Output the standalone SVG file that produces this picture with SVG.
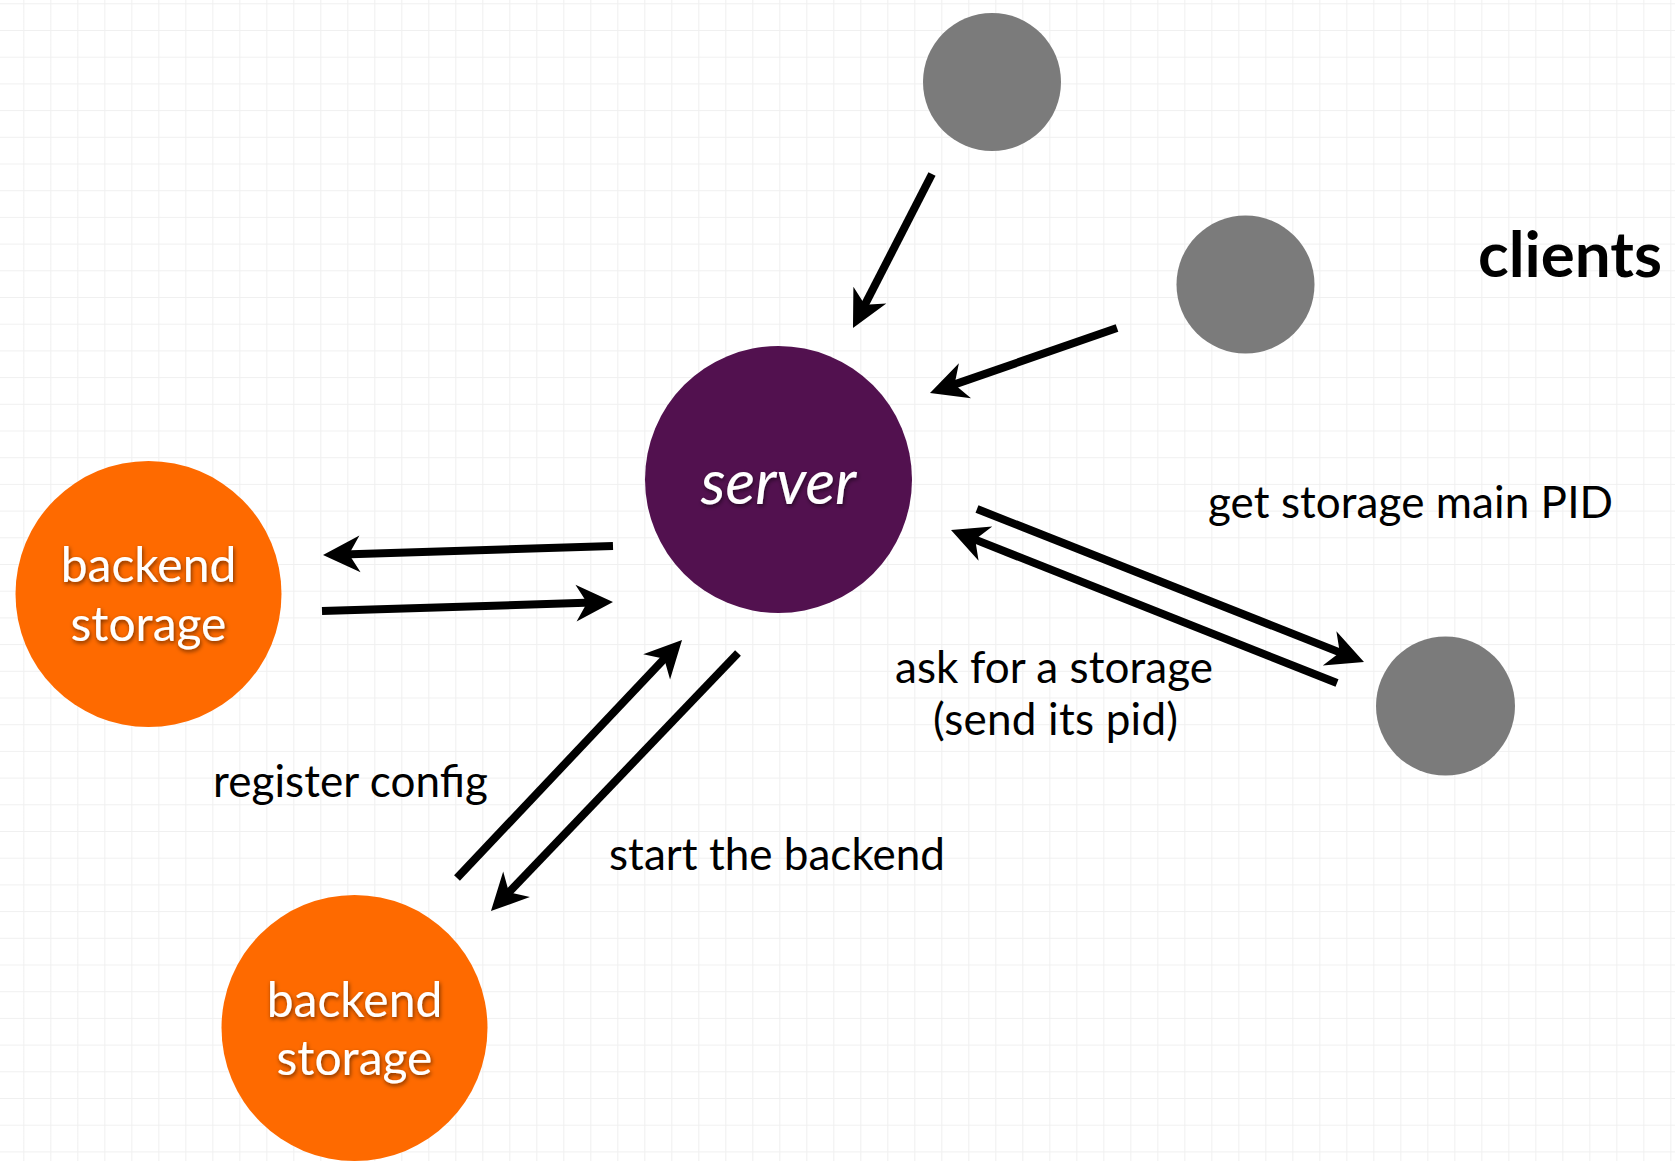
<svg xmlns="http://www.w3.org/2000/svg" width="1675" height="1161" viewBox="0 0 1675 1161">
  <defs>
    <pattern id="grid" x="23.3" y="3.3" width="27" height="26.7" patternUnits="userSpaceOnUse">
      <path d="M0,0 V26.7 M0,0 H27" fill="none" stroke="#f0f0f0" stroke-width="2.2"/>
    </pattern>
    <marker id="head" viewBox="0 0 44 44" refX="22" refY="22" markerWidth="44" markerHeight="44" markerUnits="userSpaceOnUse" orient="auto" overflow="visible">
      <path d="M42,22 L5,3.5 L16,22 L5,40.5 Z" fill="#000"/>
    </marker>
    <filter id="shadow" x="-20%" y="-30%" width="140%" height="160%">
      <feDropShadow dx="1" dy="2" stdDeviation="2" flood-color="#000" flood-opacity="0.55"/>
    </filter>
  </defs>
  <style>
    .client { fill: #7b7b7b; }
    .backend { fill: #fe6a00; }
    .server { fill: #52114f; }
    .ntext { font-family: Lato, "Liberation Sans", sans-serif; fill: #fff; text-anchor: middle; filter: url(#shadow); }
    .label { font-family: Lato, "Liberation Sans", sans-serif; font-size: 44px; fill: #000; }
    .conn line { stroke: #000; stroke-width: 8; marker-end: url(#head); }
  </style>
  <rect width="1675" height="1161" fill="#fff"/>
  <rect width="1675" height="1161" fill="url(#grid)"/>

  <g id="server">
    <circle class="server" cx="778.5" cy="479.5" r="133.5"/>
    <text class="ntext" x="778.5" y="504" font-size="62" font-style="italic">server</text>
  </g>
  <g id="backend-left">
    <circle class="backend" cx="148.5" cy="594" r="133"/>
    <text class="ntext" x="148.5" y="582" font-size="48">backend</text>
    <text class="ntext" x="148.5" y="641" font-size="48">storage</text>
  </g>
  <g id="backend-bottom">
    <circle class="backend" cx="354.5" cy="1028" r="133"/>
    <text class="ntext" x="354.5" y="1017" font-size="48">backend</text>
    <text class="ntext" x="354.5" y="1075" font-size="48">storage</text>
  </g>
  <g id="client-top">
    <circle class="client" cx="992" cy="82" r="69"/>
  </g>
  <g id="client-mid">
    <circle class="client" cx="1245.5" cy="284.5" r="69"/>
  </g>
  <g id="client-right">
    <circle class="client" cx="1445.5" cy="706" r="69.5"/>
  </g>
  <g id="clients-label">
    <text x="1478" y="277" font-family="Lato, 'Liberation Sans', sans-serif" font-weight="bold" font-size="63" textLength="184" lengthAdjust="spacingAndGlyphs" fill="#000">clients</text>
  </g>

  <g id="connectors" class="conn">
    <line x1="932" y1="174" x2="862.1" y2="310.2"/>
    <line x1="1117" y1="328" x2="948.9" y2="386.4"/>
    <line x1="613" y1="546" x2="343" y2="554.4"/>
    <line x1="322" y1="611" x2="593" y2="602.6"/>
    <line x1="457" y1="878" x2="668.3" y2="654.5"/>
    <line x1="738" y1="653" x2="504.8" y2="896.6"/>
    <line x1="977" y1="509" x2="1345.4" y2="654.6"/>
    <line x1="1337" y1="683" x2="969.6" y2="537.4"/>
  </g>

  <g id="labels">
    <text class="label" x="1208" y="518" textLength="405" lengthAdjust="spacing">get storage main PID</text>
    <text class="label" x="895" y="683" textLength="318" lengthAdjust="spacing">ask for a storage</text>
    <text class="label" x="933" y="735" textLength="245" lengthAdjust="spacing">(send its pid)</text>
    <text class="label" x="213" y="797" textLength="275" lengthAdjust="spacing">register config</text>
    <text class="label" x="609" y="870" textLength="336" lengthAdjust="spacing">start the backend</text>
  </g>
</svg>
